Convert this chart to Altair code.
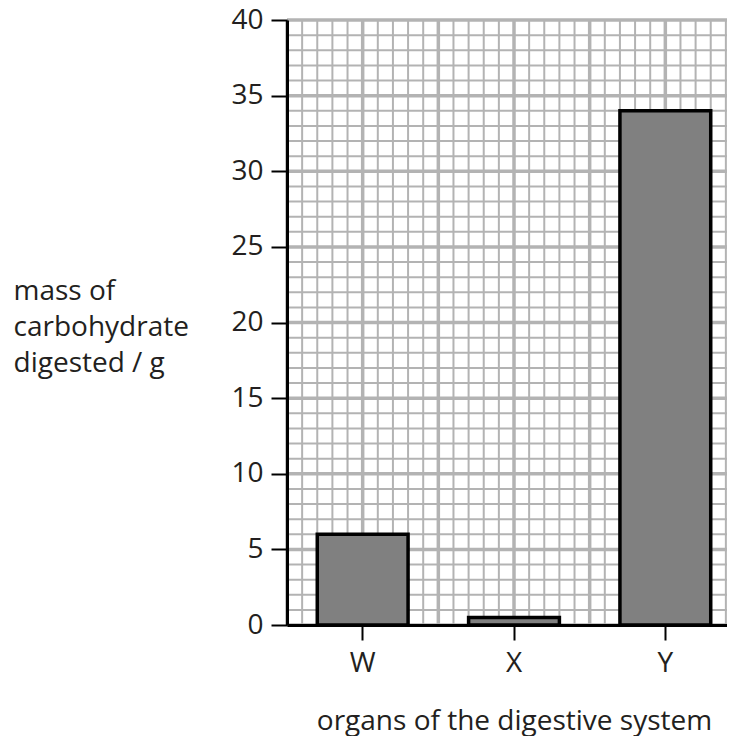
import altair as alt
import pandas as pd

# ---- data ----
organs = ["W", "X", "Y"]
mass = [6, 0.5, 34]

y_ticks = [0, 5, 10, 15, 20, 25, 30, 35, 40]
grid_minor_x = list(range(0, 31))
grid_major_x = [0, 5, 10, 15, 20, 25, 30]
grid_minor_y = list(range(0, 41))
grid_major_y = [0, 5, 10, 15, 20, 25, 30, 35, 40]

FONT = "Open Sans"
GRID = "#b3b3b3"
TXT = "#231f20"

bars_df = pd.DataFrame({"organ": organs, "mass": mass})

yscale = alt.Scale(domain=[0, 40], nice=False, zero=True)
xq = alt.Scale(domain=[0, 30], range=[0, 454], nice=False, zero=False)
xb = alt.Scale(domain=organs, range=[0, 454], paddingInner=0.4, paddingOuter=0.2)

vminor = alt.Chart(pd.DataFrame({"v": grid_minor_x})).mark_rule(
    color=GRID, strokeWidth=2
).encode(x=alt.X("v:Q", scale=xq, axis=None))

vmajor = alt.Chart(pd.DataFrame({"v": grid_major_x})).mark_rule(
    color=GRID, strokeWidth=3.5
).encode(x=alt.X("v:Q", scale=xq, axis=None))

hminor = alt.Chart(pd.DataFrame({"h": grid_minor_y})).mark_rule(
    color=GRID, strokeWidth=2
).encode(y=alt.Y("h:Q", scale=yscale, axis=None))

hmajor = alt.Chart(pd.DataFrame({"h": grid_major_y})).mark_rule(
    color=GRID, strokeWidth=3.5
).encode(y=alt.Y("h:Q", scale=yscale, axis=None))

bars = alt.Chart(bars_df).mark_bar(
    fill="#808080", stroke="black", strokeWidth=3.5
).encode(
    x=alt.X(
        "organ:N",
        scale=xb,
        sort=organs,
        axis=alt.Axis(
            title="organs of the digestive system",
            titleFont=FONT, titleFontSize=28, titleFontWeight="normal", titleColor=TXT,
            titleY=104, titleBaseline="alphabetic",
            labelFont=FONT, labelFontSize=28, labelColor=TXT, labelAngle=0,
            labelPadding=9, labelBaseline="top",
            tickSize=15, tickWidth=2, tickColor="black",
            domainWidth=3, domainColor="black",
            bandPosition=0.5, grid=False, zindex=1,
        ),
    ),
    y=alt.Y(
        "mass:Q",
        scale=yscale,
        axis=alt.Axis(
            values=y_ticks,
            title=["mass of", "carbohydrate", "digested / g"],
            titleFont=FONT, titleFontSize=28, titleFontWeight="normal", titleColor=TXT,
            titleAngle=0, titleAlign="left", titleBaseline="alphabetic",
            titleX=-274, titleY=279, titleLineHeight=36,
            labelFont=FONT, labelFontSize=28, labelColor=TXT,
            labelPadding=8, labelFlush=False, labelOverlap=False,
            tickSize=16, tickWidth=2, tickColor="black",
            domainWidth=3, domainColor="black",
            grid=False, zindex=1,
        ),
    ),
)

chart = alt.layer(vminor, hminor, vmajor, hmajor, bars).resolve_scale(
    x="independent", y="independent"
).resolve_axis(
    x="independent", y="independent"
).properties(
    width=440,
    height=605,
    padding={"left": 279, "top": 12, "right": 0, "bottom": 111},
    autosize=alt.AutoSizeParams(type="none"),
).configure_view(stroke=None).configure(background="white")

chart.save("out.html", embed_options={"renderer": "svg", "actions": False})
